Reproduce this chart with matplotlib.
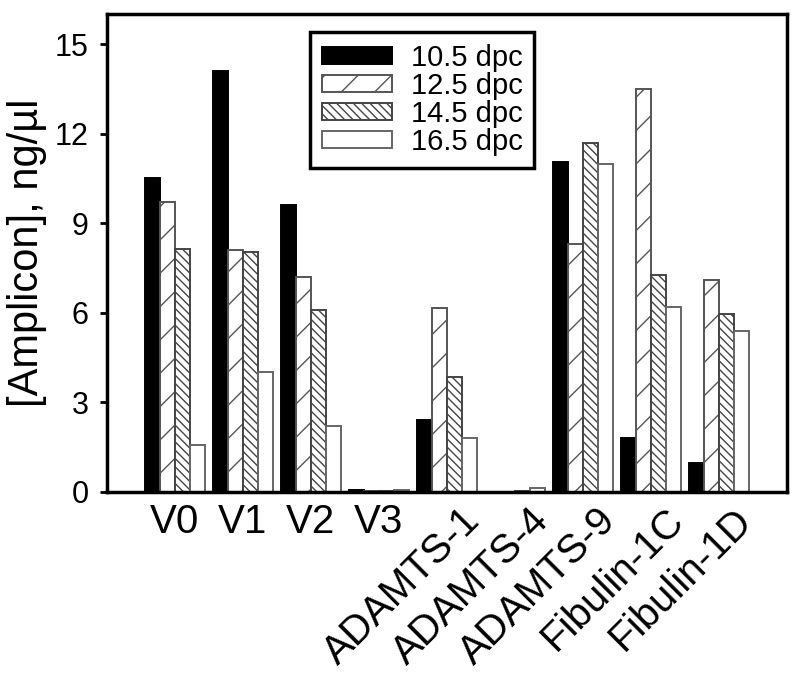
import numpy as np
import matplotlib
matplotlib.use("Agg")
import matplotlib.pyplot as plt
import matplotlib.transforms as mtransforms

plt.rcParams['font.family'] = ['Liberation Sans', 'DejaVu Sans']
plt.rcParams['hatch.linewidth'] = 1.0

# dati
genes = ["V0", "V1", "V2", "V3", "ADAMTS-1", "ADAMTS-4", "ADAMTS-9",
         "Fibulin-1C", "Fibulin-1D"]
series_labels = ["10.5 dpc", "12.5 dpc", "14.5 dpc", "16.5 dpc"]
dpc_10_5 = [10.5, 14.1, 9.6, 0.06, 2.4, 0.0, 11.05, 1.8, 0.95]
dpc_12_5 = [9.7, 8.1, 7.2, 0.03, 6.15, 0.0, 8.3, 13.5, 7.08]
dpc_14_5 = [8.15, 8.05, 6.1, 0.04, 3.85, 0.03, 11.7, 7.25, 5.97]
dpc_16_5 = [1.55, 4.0, 2.2, 0.05, 1.8, 0.13, 11.0, 6.2, 5.4]

series = [dpc_10_5, dpc_12_5, dpc_14_5, dpc_16_5]
styles = [
    dict(color='black', edgecolor='black', hatch=None),
    dict(color='white', edgecolor='#555555', hatch='/'),
    dict(color='white', edgecolor='#444444', hatch='\\\\\\\\'),
    dict(color='white', edgecolor='#666666', hatch=None),
]

fig = plt.figure(figsize=(7.98, 6.82), dpi=100)
ax = fig.add_axes([0.134, 0.279, 0.852, 0.700])

x = np.arange(len(genes))
w = 0.22
for i, (vals, lab, st) in enumerate(zip(series, series_labels, styles)):
    ax.bar(x + (i - 1.5) * w, vals, w, label=lab, linewidth=1.4, **st)

ax.set_xlim(-1, 9)
ax.set_ylim(0, 16)
ax.set_yticks([0, 3, 6, 9, 12, 15])
ax.set_xticks(x)
ax.set_xticklabels(genes)
ax.tick_params(axis='x', length=0, labelsize=29, pad=8)
ax.tick_params(axis='y', direction='out', length=5, width=2, labelsize=22, pad=8)

# etichette inclinate spostate un po' a destra
shift = mtransforms.ScaledTranslation(0.14, 0.02, fig.dpi_scale_trans)
for i, t in enumerate(ax.get_xticklabels()):
    if i >= 4:
        t.set_rotation(45)
        t.set_ha('right')
        t.set_rotation_mode('anchor')
        t.set_transform(t.get_transform() + shift)

for s in ax.spines.values():
    s.set_linewidth(2.5)

ax.set_ylabel("[Amplicon], ng/µl", fontsize=30, labelpad=6)

leg = ax.legend(loc='upper left', bbox_to_anchor=(0.2985, 0.9625), fontsize=21,
                handlelength=2.4, handleheight=0.52, labelspacing=0.0,
                handletextpad=0.65, borderpad=0.4, borderaxespad=0,
                fancybox=False, edgecolor='black', framealpha=1)
leg.get_frame().set_linewidth(2.5)

plt.savefig("out.png", dpi=100)
